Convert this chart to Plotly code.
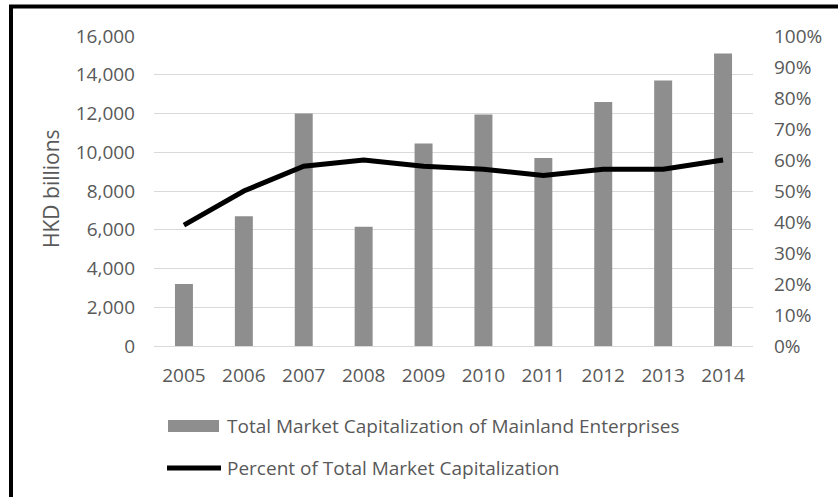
import plotly.graph_objects as go

# Market capitalization of mainland enterprises listed in Hong Kong
years = ["2005", "2006", "2007", "2008", "2009", "2010", "2011", "2012", "2013", "2014"]
market_cap = [3200, 6700, 12000, 6150, 10450, 11950, 9700, 12600, 13700, 15100]
pct_of_total = [0.39, 0.50, 0.58, 0.60, 0.58, 0.57, 0.55, 0.57, 0.57, 0.60]

bar_name = "Total Market Capitalization of Mainland Enterprises"
line_name = "Percent of Total Market Capitalization"
y_title = "HKD billions"

W, H = 838, 497
L, R, T, B = 154, 753, 36, 346  # plot area edges in pixels

def px(x):
    return (x - L) / (R - L)

def py(y):
    return (B - y) / (B - T)

TEXT = "#595959"
FONT = "Open Sans"
TICK = 19

fig = go.Figure()
fig.add_trace(go.Bar(
    x=years, y=market_cap, name=bar_name, width=0.3,
    marker=dict(color="#8e8e8e", line=dict(width=0)), showlegend=False,
))
fig.add_trace(go.Scatter(
    x=years, y=pct_of_total, name=line_name, yaxis="y2", mode="lines",
    line=dict(color="black", width=5), showlegend=False,
))

# legend drawn as swatches plus labels
shapes = [
    dict(type="rect", xref="paper", yref="paper",
         x0=px(168), x1=px(219), y0=py(432), y1=py(420),
         fillcolor="#8e8e8e", line=dict(width=0)),
    dict(type="line", xref="paper", yref="paper",
         x0=px(167), x1=px(221), y0=py(468), y1=py(468),
         line=dict(color="black", width=5)),
    # outer frame
    dict(type="rect", xref="paper", yref="paper",
         x0=px(11), x1=px(860), y0=py(520), y1=py(6.5),
         line=dict(color="black", width=4), fillcolor="rgba(0,0,0,0)", layer="above"),
]
annotations = [
    dict(text=bar_name, xref="paper", yref="paper", x=px(225), y=py(426),
         xanchor="left", yanchor="middle", showarrow=False,
         font=dict(family=FONT, size=19, color=TEXT)),
    dict(text=line_name, xref="paper", yref="paper", x=px(225), y=py(468),
         xanchor="left", yanchor="middle", showarrow=False,
         font=dict(family=FONT, size=19, color=TEXT)),
    dict(text=y_title, xref="paper", yref="paper", x=px(51), y=py(189),
         xanchor="center", yanchor="middle", textangle=-90, showarrow=False,
         font=dict(family=FONT, size=21, color=TEXT)),
]

fig.update_layout(
    width=W, height=H,
    margin=dict(l=L, r=W - R, t=T, b=H - B, pad=0),
    paper_bgcolor="white", plot_bgcolor="white",
    font=dict(family=FONT, size=TICK, color=TEXT),
    shapes=shapes, annotations=annotations,
    bargap=0.7,
    xaxis=dict(type="category", showgrid=False, showline=False, zeroline=False,
               ticks="", ticklabelstandoff=16, tickfont=dict(size=TICK, color=TEXT)),
    yaxis=dict(range=[0, 16000], dtick=2000, tickformat=",", showgrid=True,
               gridcolor="#d9d9d9", gridwidth=1, zeroline=True, zerolinecolor="#d9d9d9",
               zerolinewidth=1, showline=False, ticks="", ticklabelstandoff=18,
               tickfont=dict(size=TICK, color=TEXT)),
    yaxis2=dict(range=[0, 1], dtick=0.1, tickformat=".0%", overlaying="y", side="right",
                showgrid=False, zeroline=False, showline=False, ticks="",
                ticklabelstandoff=20, tickfont=dict(size=TICK, color=TEXT)),
)

fig.write_html("out.html")
